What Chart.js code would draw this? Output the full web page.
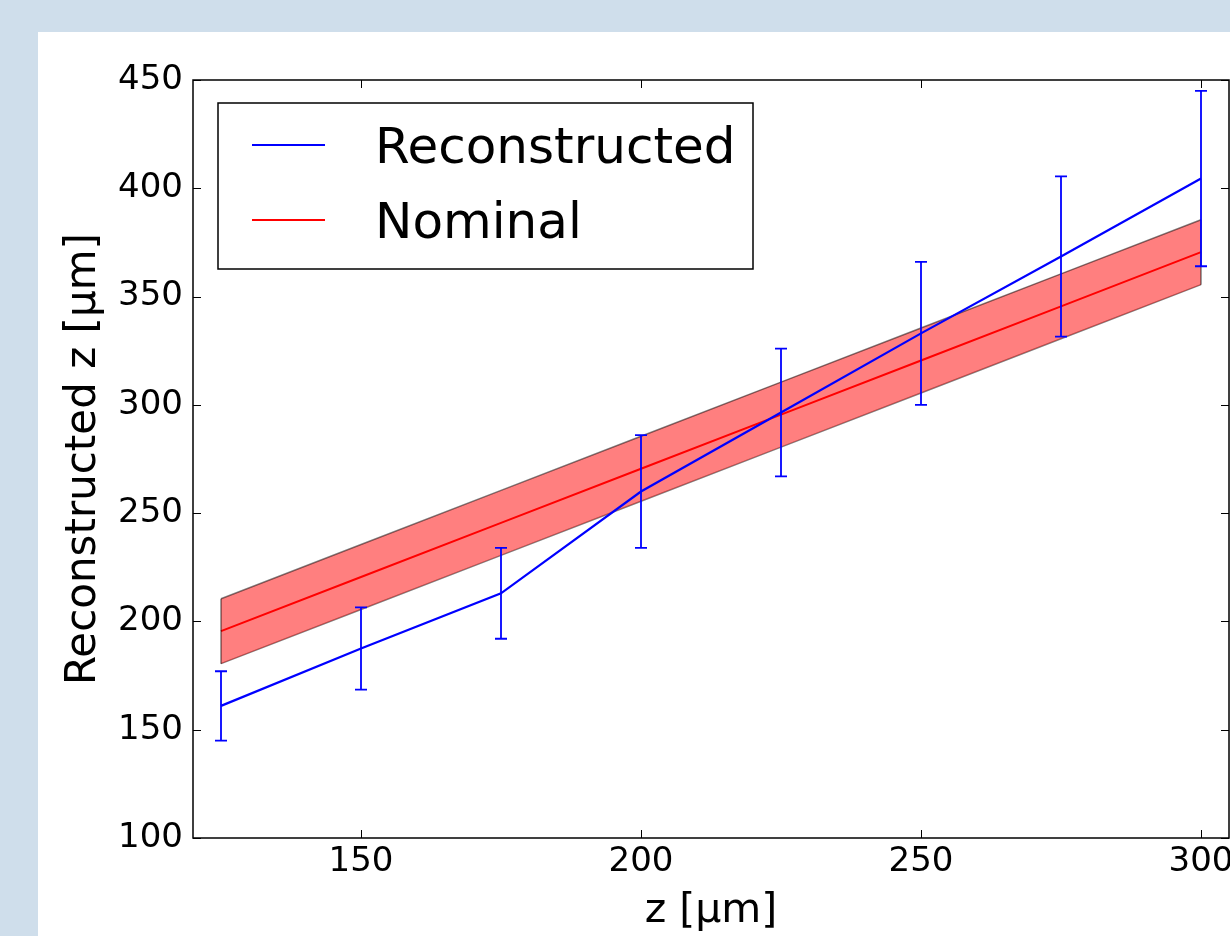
<!DOCTYPE html>
<html>
<head>
<meta charset="utf-8">
<script src="https://cdn.jsdelivr.net/npm/chart.js@4.4.0/dist/chart.umd.min.js"></script>
<style>
  body { margin: 0; background: #cfdeeb; width: 1230px; height: 936px; overflow: hidden; }
  #panel { position: absolute; left: 38px; top: 32px; width: 1192px; height: 904px; background: #ffffff; }
</style>
</head>
<body>
<div id="panel"><canvas id="zChart" width="1192" height="904"></canvas></div>
<script>
const zValues = [125, 150, 175, 200, 225, 250, 275, 300];
const recoValues = [161, 187.5, 213, 260, 296.5, 333, 368.5, 404.5];
const recoErrors = [16, 19, 21, 26, 29.5, 33, 37, 40.5];
const nominalValues = [195.5, 220.5, 245.5, 270.5, 295.5, 320.5, 345.5, 370.5];
const nominalBand = 15;
const xTicks = [150, 200, 250, 300];
const yTicks = [100, 150, 200, 250, 300, 350, 400, 450];

const FONT = 'DejaVu Sans';

const toPoints = (ys) => zValues.map((z, i) => ({ x: z, y: ys[i] }));

// errorbars, band side edges, frame with inward ticks, boxed legend
const extrasPlugin = {
    id: 'extras',
    afterDatasetsDraw(chart) {
        const ctx = chart.ctx;
        const xs = chart.scales.x;
        const ys = chart.scales.y;
        const area = chart.chartArea;

        // band left/right edges
        ctx.save();
        ctx.strokeStyle = 'rgba(0,0,0,0.5)';
        ctx.lineWidth = 1.5;
        [0, zValues.length - 1].forEach(i => {
            const px = xs.getPixelForValue(zValues[i]);
            ctx.beginPath();
            ctx.moveTo(px, ys.getPixelForValue(nominalValues[i] + nominalBand));
            ctx.lineTo(px, ys.getPixelForValue(nominalValues[i] - nominalBand));
            ctx.stroke();
        });
        ctx.restore();

        // error bars
        ctx.save();
        ctx.strokeStyle = '#0000ff';
        ctx.lineWidth = 1.8;
        zValues.forEach((z, i) => {
            const px = xs.getPixelForValue(z);
            const top = ys.getPixelForValue(recoValues[i] + recoErrors[i]);
            const bot = ys.getPixelForValue(recoValues[i] - recoErrors[i]);
            ctx.beginPath();
            ctx.moveTo(px, top);
            ctx.lineTo(px, bot);
            ctx.moveTo(px - 6, top);
            ctx.lineTo(px + 6, top);
            ctx.moveTo(px - 6, bot);
            ctx.lineTo(px + 6, bot);
            ctx.stroke();
        });
        ctx.restore();

        // frame and ticks
        ctx.save();
        ctx.strokeStyle = '#000000';
        ctx.lineWidth = 1.5;
        ctx.strokeRect(area.left, area.top, area.right - area.left, area.bottom - area.top);
        ctx.lineWidth = 1;
        ctx.beginPath();
        xTicks.forEach(v => {
            const px = Math.round(xs.getPixelForValue(v)) + 0.5;
            ctx.moveTo(px, area.bottom);
            ctx.lineTo(px, area.bottom - 8);
            ctx.moveTo(px, area.top);
            ctx.lineTo(px, area.top + 8);
        });
        yTicks.forEach(v => {
            const py = Math.round(ys.getPixelForValue(v)) + 0.5;
            ctx.moveTo(area.left, py);
            ctx.lineTo(area.left + 8, py);
            ctx.moveTo(area.right, py);
            ctx.lineTo(area.right - 8, py);
        });
        ctx.stroke();
        ctx.restore();

        // legend box
        const lx = area.left + 25, ly = area.top + 23, lw = 535, lh = 166;
        ctx.save();
        ctx.fillStyle = '#ffffff';
        ctx.fillRect(lx, ly, lw, lh);
        ctx.strokeStyle = '#000000';
        ctx.lineWidth = 1.5;
        ctx.strokeRect(lx, ly, lw, lh);
        const entries = [
            { label: chart.data.datasets[0].label, color: '#0000ff', y: ly + 42 },
            { label: chart.data.datasets[1].label, color: '#ff0000', y: ly + 117 }
        ];
        ctx.font = '50px ' + FONT;
        ctx.textBaseline = 'middle';
        ctx.fillStyle = '#000000';
        entries.forEach(e => {
            ctx.strokeStyle = e.color;
            ctx.lineWidth = 2;
            ctx.beginPath();
            ctx.moveTo(lx + 34, e.y);
            ctx.lineTo(lx + 107, e.y);
            ctx.stroke();
            ctx.fillText(e.label, lx + 157, e.y + 5);
        });
        ctx.restore();
    }
};

const data = {
    datasets: [
        {
            label: 'Reconstructed',
            data: toPoints(recoValues),
            borderColor: '#0000ff',
            borderWidth: 2.2,
            pointRadius: 0,
            order: 0
        },
        {
            label: 'Nominal',
            data: toPoints(nominalValues),
            borderColor: '#ff0000',
            borderWidth: 2,
            pointRadius: 0,
            order: 1
        },
        {
            label: 'band upper',
            data: toPoints(nominalValues.map(v => v + nominalBand)),
            borderColor: 'rgba(0,0,0,0.5)',
            borderWidth: 1.5,
            backgroundColor: 'rgba(255,0,0,0.5)',
            fill: '+1',
            pointRadius: 0,
            order: 2
        },
        {
            label: 'band lower',
            data: toPoints(nominalValues.map(v => v - nominalBand)),
            borderColor: 'rgba(0,0,0,0.5)',
            borderWidth: 1.5,
            pointRadius: 0,
            fill: false,
            order: 3
        }
    ]
};

const config = {
    type: 'line',
    data: data,
    options: {
        responsive: false,
        animation: false,
        devicePixelRatio: 1,
        layout: { padding: { left: 0, top: 48, right: 1, bottom: 0 } },
        plugins: {
            legend: { display: false },
            tooltip: { enabled: false }
        },
        scales: {
            x: {
                type: 'linear',
                min: 120,
                max: 305,
                grid: { display: false, drawTicks: false },
                border: { display: false },
                ticks: { font: { family: FONT, size: 34 }, color: '#000000', padding: 4, maxRotation: 0 },
                title: { display: true, text: 'z [µm]', font: { family: FONT, size: 41 }, color: '#000000', padding: 0 },
                afterBuildTicks: (scale) => { scale.ticks = xTicks.map(v => ({ value: v })); },
                afterFit: (scale) => { scale.height = 98; scale.paddingLeft = 0; scale.paddingRight = 0; }
            },
            y: {
                type: 'linear',
                min: 100,
                max: 450,
                grid: { display: false, drawTicks: false },
                border: { display: false },
                ticks: { font: { family: FONT, size: 34 }, color: '#000000', padding: 10 },
                title: { display: true, text: 'Reconstructed z [µm]', font: { family: FONT, size: 42 }, color: '#000000', padding: { top: 21 } },
                afterBuildTicks: (scale) => { scale.ticks = yTicks.map(v => ({ value: v })); },
                afterFit: (scale) => { scale.width = 155; scale.paddingTop = 0; scale.paddingBottom = 0; }
            }
        }
    },
    plugins: [extrasPlugin]
};

const zChart = new Chart(// eslint-disable-line
    document.getElementById('zChart'),
    config
);
</script>
</body>
</html>
